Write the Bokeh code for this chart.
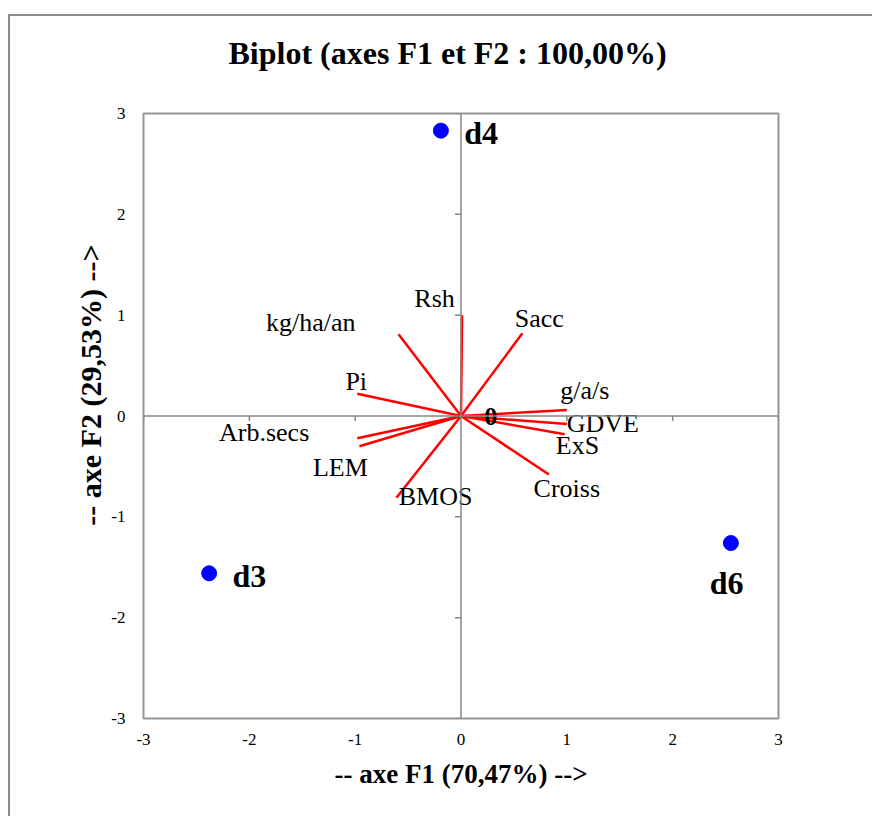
from bokeh.plotting import figure
from bokeh.models import Span, ColumnDataSource, FixedTicker, Range1d, Title, LinearAxis
from bokeh.core.properties import value
from bokeh.embed import file_html
from bokeh.resources import INLINE

# ---- data ----
title_text = "Biplot (axes F1 et F2 : 100,00%)"
x_label = "-- axe F1 (70,47%) -->"
y_label = "-- axe F2 (29,53%) -->"
ticks = [-3, -2, -1, 0, 1, 2, 3]
tick_labels = ["-3", "-2", "-1", "0", "1", "2", "3"]

var_names = ["Rsh", "Sacc", "kg/ha/an", "Pi", "Arb.secs", "LEM", "BMOS",
             "Croiss", "ExS", "GDVE", "g/a/s"]
var_f1 = [0.01, 0.58, -0.59, -0.98, -0.98, -0.96, -0.61, 0.83, 0.98, 1.00, 1.00]
var_f2 = [1.00, 0.82, 0.81, 0.22, -0.22, -0.30, -0.81, -0.58, -0.18, -0.08, 0.06]
var_lab_x = [-0.25, 0.74, -1.42, -0.99, -1.86, -1.14, -0.24, 1.00, 1.10, 1.34, 1.17]
var_lab_y = [1.17, 0.97, 0.93, 0.34, -0.16, -0.51, -0.80, -0.72, -0.29, -0.07, 0.25]

obs_names = ["d4", "d3", "d6"]
obs_f1 = [-0.19, -2.38, 2.55]
obs_f2 = [2.83, -1.56, -1.26]
obs_lab_x = [0.19, -2.00, 2.51]
obs_lab_y = [2.81, -1.59, -1.66]

zero_names = ["0"]
zero_f1 = [0.28]
zero_f2 = [0.0]

SERIF = "Liberation Serif"

p = figure(width=862, height=800, output_backend="svg", toolbar_location=None,
           x_range=Range1d(-3, 3), y_range=Range1d(-3, 3),
           min_border_left=133, min_border_right=94, min_border_top=97, min_border_bottom=98,
           frame_width=635, frame_height=605,
           styles={"border-left": "2px solid #8c8c8c", "border-top": "2px solid #8c8c8c",
                   "margin-top": "14px", "margin-left": "8px"})
p.background_fill_color = "white"
p.border_fill_color = "white"
p.outline_line_color = "#969696"
p.outline_line_width = 2
p.xgrid.visible = False
p.ygrid.visible = False

for ax in (p.xaxis[0], p.yaxis[0]):
    ax.ticker = FixedTicker(ticks=ticks)
    ax.major_label_overrides = {t: s for t, s in zip(ticks, tick_labels)}
    ax.axis_line_color = None
    ax.major_tick_line_color = None
    ax.minor_tick_line_color = None
    ax.major_tick_out = 0
    ax.major_tick_in = 0
    ax.major_label_text_font = SERIF
    ax.major_label_text_font_size = "17px"
    ax.major_label_text_color = "#000000"
p.xaxis[0].major_label_standoff = 15
p.yaxis[0].major_label_standoff = 18

p.xaxis[0].axis_label = x_label
p.xaxis[0].axis_label_text_font = SERIF
p.xaxis[0].axis_label_text_font_size = "27px"
p.xaxis[0].axis_label_text_font_style = "bold"
p.xaxis[0].axis_label_text_color = "#000000"
p.xaxis[0].axis_label_standoff = 11

# invisible spacer axis between the frame and the title
spacer = LinearAxis(ticker=FixedTicker(ticks=[0]), major_label_overrides={0: ""},
                    axis_line_color=None, major_tick_line_color=None, minor_tick_line_color=None,
                    major_tick_in=0, major_tick_out=38, minor_tick_in=0, minor_tick_out=0,
                    major_label_standoff=0)
p.add_layout(spacer, "above")

# title
p.add_layout(Title(text=title_text, align="left", offset=85, standoff=10,
                   text_font=SERIF, text_font_size="32px", text_font_style="bold",
                   text_color="#000000"), "above")
# y axis title (placed outside the axis in the left panel)
p.add_layout(Title(text=y_label, align="right", offset=131, standoff=4,
                   text_font=SERIF, text_font_size="30px", text_font_style="bold",
                   text_color="#000000"), "left")

# zero lines
p.add_layout(Span(location=0, dimension="width", line_color="#868686", line_width=1.5))
p.add_layout(Span(location=0, dimension="height", line_color="#868686", line_width=1.5))

# small tick marks on the zero axes
tk = [t for t in ticks if t != 0]
p.segment(x0=[-0.057] * len(tk), y0=tk, x1=[0] * len(tk), y1=tk, line_color="#868686", line_width=1.5)
p.segment(x0=tk, y0=[0] * len(tk), x1=tk, y1=[-0.05] * len(tk), line_color="#868686", line_width=1.5)

# variable vectors
vsrc = ColumnDataSource(dict(x0=[0] * len(var_f1), y0=[0] * len(var_f2), x1=var_f1, y1=var_f2,
                             lx=var_lab_x, ly=var_lab_y, name=var_names))
p.segment(x0="x0", y0="y0", x1="x1", y1="y1", source=vsrc, line_color="#ff0000", line_width=2.5)
p.text(x="lx", y="ly", text="name", source=vsrc, text_font=value(SERIF), text_font_size="26px",
       text_align="center", text_baseline="middle", text_color="#000000")

# overlapping "0" label
p.text(x=zero_f1, y=zero_f2, text=zero_names, text_font=value(SERIF), text_font_size="26px",
       text_font_style="bold", text_align="center", text_baseline="middle", text_color="#000000")

# observations
osrc = ColumnDataSource(dict(x=obs_f1, y=obs_f2, lx=obs_lab_x, ly=obs_lab_y, name=obs_names))
p.scatter(x="x", y="y", source=osrc, size=15, fill_color="#0000ff", line_color="#0000ff")
p.text(x="lx", y="ly", text="name", source=osrc, text_font=value(SERIF), text_font_size="32px",
       text_font_style="bold", text_align="center", text_baseline="middle", text_color="#000000")

open("out.html", "w").write(file_html(p, INLINE))
